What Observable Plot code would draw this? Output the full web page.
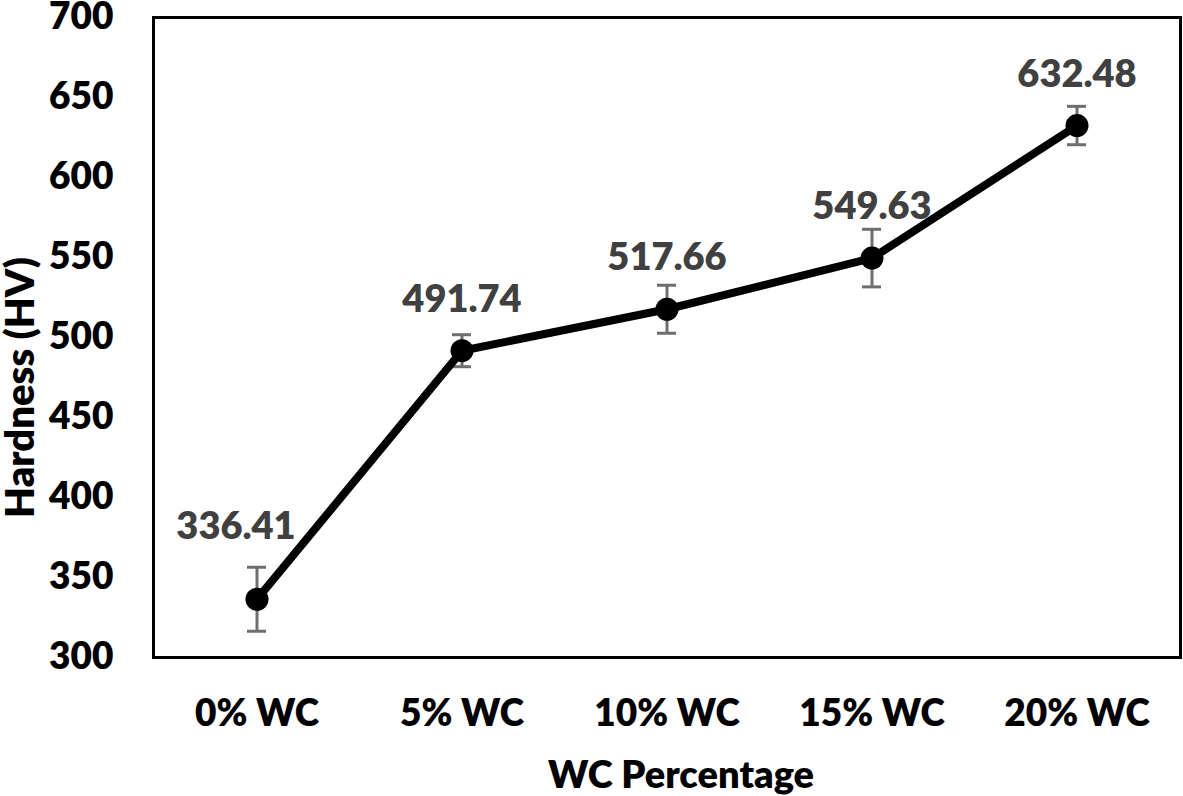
<!DOCTYPE html>
<html>
<head>
<meta charset="utf-8">
<script src="https://cdn.jsdelivr.net/npm/d3@7"></script>
<script src="https://cdn.jsdelivr.net/npm/@observablehq/plot@0.6"></script>
<style>
  html, body { margin: 0; padding: 0; background: #fff; }
  #chart svg { display: block; }
</style>
</head>
<body>
<div id="chart"></div>
<script>
const categories = ["0% WC", "5% WC", "10% WC", "15% WC", "20% WC"];
const hardness = [336.41, 491.74, 517.66, 549.63, 632.48];
const errors = [20, 10, 15, 18, 12];
const labels = ["336.41", "491.74", "517.66", "549.63", "632.48"];
const yTicks = [300, 350, 400, 450, 500, 550, 600, 650, 700];

const data = categories.map((c, i) => ({
  cat: c, value: hardness[i], err: errors[i], label: labels[i],
  lo: hardness[i] - errors[i], hi: hardness[i] + errors[i]
}));

const font = "Lato, 'Open Sans', sans-serif";
const W = 800;

const chart = Plot.plot({
  width: 1183,
  height: 796,
  marginLeft: 153,
  marginRight: 3,
  marginTop: 17,
  marginBottom: 139,
  style: { fontFamily: font, fontWeight: W, fontSize: "36px", color: "#000", background: "#fff", overflow: "visible" },
  x: { type: "band", domain: categories, padding: 0, label: null },
  y: { domain: [300, 700], label: null },
  marks: [
    Plot.axisY({ ticks: yTicks, tickSize: 0, tickPadding: 40, fontSize: 37, fontWeight: W, label: null, fill: "#000" }),
    Plot.axisX({ tickSize: 0, tickPadding: 42, fontSize: 37, fontWeight: W, label: null, fill: "#000" }),
    Plot.ruleX(data, { x: "cat", y1: "lo", y2: "hi", stroke: "#6e6e6e", strokeWidth: 3 }),
    Plot.tickY(data, { x: "cat", y: "lo", stroke: "#6e6e6e", strokeWidth: 3, inset: 93 }),
    Plot.tickY(data, { x: "cat", y: "hi", stroke: "#6e6e6e", strokeWidth: 3, inset: 93 }),
    Plot.line(data, { x: "cat", y: "value", stroke: "#000", strokeWidth: 8 }),
    Plot.dot(data, { x: "cat", y: "value", r: 11.5, fill: "#000" }),
    Plot.text(data.filter((d, i) => i === 0), { x: "cat", y: "value", text: "label", dx: -21, dy: -72, fill: "#404040", fontSize: 38, fontWeight: W }),
    Plot.text(data.filter((d, i) => i > 0), { x: "cat", y: "value", text: "label", dy: -51, fill: "#404040", fontSize: 38, fontWeight: W }),
    Plot.frame({ stroke: "#000", strokeWidth: 3 }),
    Plot.text(["Hardness (HV)"], { frameAnchor: "left", textAnchor: "middle", lineAnchor: "middle", dx: -132, dy: 50, rotate: -90, fontSize: 40, fontWeight: W, fill: "#000" }),
    Plot.text(["WC Percentage"], { frameAnchor: "bottom", textAnchor: "middle", lineAnchor: "middle", dx: 14, dy: 118, fontSize: 38, fontWeight: W, fill: "#000" })
  ]
});

document.getElementById("chart").appendChild(chart);
</script>
</body>
</html>
